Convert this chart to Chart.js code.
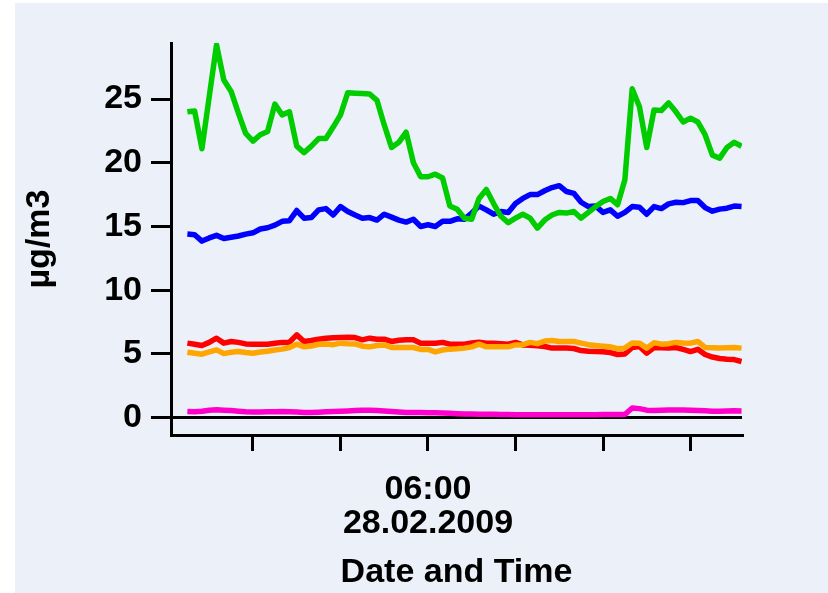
<!DOCTYPE html>
<html>
<head>
<meta charset="utf-8">
<script src="https://cdn.jsdelivr.net/npm/chart.js@4/dist/chart.umd.min.js"></script>
<style>
  body { margin: 0; background: #ffffff; }
  canvas { display: block; }
</style>
</head>
<body>
<canvas id="js--chart" width="828" height="593"></canvas>
<script>
// sampling: every 10 minutes from 00:30 on 28.02.2009
const startHour = 0.5;
const stepHour = 10 / 60;

const green = [24.0, 24.07, 21.1, 25.2, 29.25, 26.5, 25.6, 23.9, 22.3, 21.7,
  22.2, 22.45, 24.6, 23.76, 24.0, 21.3, 20.8, 21.3, 21.9, 21.9,
  22.8, 23.76, 25.5, 25.46, 25.43, 25.4, 24.9, 22.97, 21.2, 21.6,
  22.4, 20.0, 18.9, 18.9, 19.1, 18.8, 16.6, 16.35, 15.65, 15.57,
  17.2, 17.9, 16.8, 15.8, 15.3, 15.65, 15.96, 15.65, 14.87, 15.5,
  15.9, 16.1, 16.05, 16.17, 15.65, 16.1, 16.56, 16.96, 17.2, 16.7,
  18.66, 25.8, 24.4, 21.2, 24.15, 24.1, 24.7, 24.0, 23.2, 23.5,
  23.2, 22.2, 20.6, 20.36, 21.2, 21.6, 21.3];

const blue = [14.4, 14.35, 13.85, 14.1, 14.3, 14.05, 14.15, 14.25, 14.4, 14.5,
  14.8, 14.9, 15.1, 15.4, 15.45, 16.25, 15.65, 15.7, 16.3, 16.4,
  15.9, 16.56, 16.17, 15.9, 15.65, 15.7, 15.5, 15.96, 15.73, 15.5,
  15.34, 15.57, 15.0, 15.13, 15.0, 15.4, 15.4, 15.6, 15.57, 16.05,
  16.6, 16.3, 15.96, 16.17, 16.1, 16.8, 17.2, 17.5, 17.5, 17.8,
  18.05, 18.2, 17.74, 17.6, 16.9, 16.56, 16.6, 16.1, 16.3, 15.8,
  16.1, 16.56, 16.5, 15.96, 16.56, 16.4, 16.77, 16.9, 16.87, 17.03,
  17.03, 16.48, 16.2, 16.36, 16.43, 16.6, 16.56];

const red = [5.84, 5.75, 5.65, 5.9, 6.23, 5.84, 5.97, 5.9, 5.78, 5.76,
  5.76, 5.76, 5.83, 5.9, 5.92, 6.49, 5.97, 6.05, 6.15, 6.23,
  6.27, 6.28, 6.3, 6.28, 6.1, 6.23, 6.15, 6.15, 5.97, 6.07,
  6.1, 6.1, 5.84, 5.84, 5.84, 5.9, 5.76, 5.76, 5.76, 5.85,
  5.92, 5.84, 5.84, 5.8, 5.76, 5.9, 5.7, 5.68, 5.64, 5.58,
  5.45, 5.45, 5.45, 5.42, 5.26, 5.2, 5.18, 5.17, 5.1, 4.95,
  4.99, 5.5, 5.57, 5.05, 5.5, 5.47, 5.45, 5.5, 5.35, 5.18,
  5.36, 4.95, 4.75, 4.63, 4.58, 4.55, 4.4];

const orange = [5.13, 5.05, 4.97, 5.15, 5.31, 5.02, 5.12, 5.18, 5.1, 5.05,
  5.15, 5.2, 5.3, 5.37, 5.5, 5.76, 5.55, 5.62, 5.75, 5.78,
  5.72, 5.84, 5.8, 5.78, 5.6, 5.55, 5.65, 5.7, 5.5, 5.5,
  5.5, 5.5, 5.35, 5.35, 5.15, 5.3, 5.37, 5.4, 5.45, 5.55,
  5.76, 5.55, 5.55, 5.55, 5.55, 5.7, 5.72, 5.9, 5.8, 6.0,
  6.05, 5.97, 5.97, 5.97, 5.84, 5.72, 5.65, 5.6, 5.55, 5.4,
  5.45, 5.85, 5.84, 5.45, 5.88, 5.76, 5.8, 5.9, 5.86, 5.84,
  5.97, 5.5, 5.48, 5.45, 5.47, 5.5, 5.45];

const magenta = [0.47, 0.45, 0.5, 0.58, 0.62, 0.58, 0.55, 0.5, 0.45, 0.43,
  0.43, 0.45, 0.45, 0.47, 0.45, 0.43, 0.4, 0.4, 0.42, 0.45,
  0.47, 0.5, 0.52, 0.55, 0.57, 0.57, 0.55, 0.52, 0.47, 0.43,
  0.4, 0.4, 0.4, 0.38, 0.37, 0.35, 0.33, 0.3, 0.28, 0.27,
  0.26, 0.25, 0.25, 0.24, 0.23, 0.22, 0.22, 0.22, 0.21, 0.21,
  0.21, 0.21, 0.21, 0.21, 0.21, 0.22, 0.22, 0.23, 0.23, 0.23,
  0.24, 0.75, 0.7, 0.58, 0.55, 0.58, 0.6, 0.6, 0.6, 0.58,
  0.55, 0.53, 0.5, 0.5, 0.52, 0.53, 0.52];

const xTicks = [2, 4, 6, 8, 10, 12];
const yTicks = [0, 5, 10, 15, 20, 25];

const font = { family: "'Liberation Sans', Arial, sans-serif", size: 34, weight: 'bold' };

function toPoints(values) {
  return values.map((v, i) => ({ x: startHour + i * stepHour, y: v }));
}

function line(values, color) {
  return {
    data: toPoints(values),
    borderColor: color,
    borderWidth: 5.5,
    pointRadius: 0,
    tension: 0,
    borderJoinStyle: 'round'
  };
}

const background = {
  id: 'background',
  beforeDraw(chart) {
    const c = chart.ctx;
    c.save();
    c.fillStyle = '#ffffff';
    c.fillRect(0, 0, chart.width, chart.height);
    c.fillStyle = '#ecf1f9';
    c.fillRect(15, 3, chart.width - 15, chart.height - 3);
    c.restore();
  }
};

new Chart(document.getElementById('js--chart'), {
  type: 'line',
  data: {
    datasets: [
      line(green, '#00cc00'),
      line(blue, '#0000ff'),
      line(orange, '#ffa500'),
      line(red, '#ff0000'),
      line(magenta, '#ff00cc')
    ]
  },
  options: {
    responsive: false,
    animation: false,
    layout: { padding: { top: 43, right: 86, left: 0, bottom: 0 } },
    plugins: { legend: { display: false }, tooltip: { enabled: false } },
    scales: {
      x: {
        type: 'linear',
        position: 'bottom',
        min: 0.126,
        max: 13.177,
        afterBuildTicks: s => { s.ticks = xTicks.map(v => ({ value: v })); },
        afterFit: s => { s.height = 158; },
        border: { display: true, color: '#000', width: 3 },
        grid: { drawOnChartArea: false, tickLength: 16, tickColor: '#000', lineWidth: 3 },
        ticks: {
          callback: v => v === 6 ? ['06:00', '28.02.2009'] : '',
          font: Object.assign({ lineHeight: 1.0 }, font),
          color: '#000',
          padding: 22,
          maxRotation: 0,
          autoSkip: false
        },
        title: {
          display: true,
          text: 'Date and Time',
          font: font,
          color: '#000',
          padding: { top: 0, bottom: 0 }
        }
      },
      y: {
        min: -1.37,
        max: 29.4,
        afterBuildTicks: s => { s.ticks = yTicks.map(v => ({ value: v })); },
        afterFit: s => { s.width = 171; },
        border: { display: true, color: '#000', width: 3 },
        grid: {
          color: c => c.tick && c.tick.value === 0 ? '#000' : 'transparent',
          lineWidth: 3,
          tickLength: 20,
          tickColor: '#000'
        },
        ticks: { font: font, color: '#000', padding: 9 },
        title: {
          display: true,
          text: 'µg/m3',
          font: font,
          color: '#000',
          padding: { top: 19, bottom: 0 }
        }
      }
    }
  },
  plugins: [background]
});
</script>
</body>
</html>
